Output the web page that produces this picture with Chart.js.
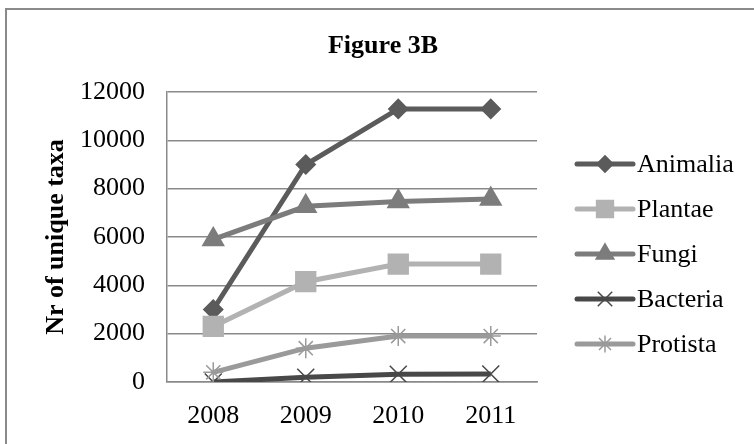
<!DOCTYPE html>
<html>
<head>
<meta charset="utf-8">
<script src="https://cdn.jsdelivr.net/npm/chart.js@4/dist/chart.umd.min.js"></script>
<style>
  html, body { margin: 0; padding: 0; background: #ffffff; }
  #wrap { position: relative; width: 754px; height: 444px; }
</style>
</head>
<body>
<div id="wrap"><canvas id="c" width="754" height="444"></canvas></div>
<script>
// Years on the category axis
const years = ['2008', '2009', '2010', '2011'];

// Number of unique taxa per kingdom
const animalia = [3000, 9000, 11300, 11300];
const plantae  = [2300, 4150, 4880, 4880];
const fungi    = [5900, 7270, 7470, 7570];
const bacteria = [0, 200, 320, 330];
const protista = [400, 1400, 1900, 1900];

// Value axis ticks
const yTicks = [0, 2000, 4000, 6000, 8000, 10000, 12000];

const SERIF = '"Liberation Serif", "Times New Roman", serif';

const series = [
  { label: 'Animalia', data: animalia, color: '#5b5b5b', style: 'rectRot',  radius: 9.5 },
  { label: 'Plantae',  data: plantae,  color: '#b2b2b2', style: 'rect',     radius: 14 },
  { label: 'Fungi',    data: fungi,    color: '#7c7c7c', style: 'triangle', radius: 12 },
  { label: 'Bacteria', data: bacteria, color: '#484848', style: 'crossRot', radius: 12 },
  { label: 'Protista', data: protista, color: '#9a9a9a', style: 'star',     radius: 10 }
];

// Outer frame and chart heading
const framePlugin = {
  id: 'frame',
  beforeDraw(chart) {
    const ctx = chart.ctx;
    ctx.save();
    ctx.strokeStyle = '#8a8a8a';
    ctx.lineWidth = 2;
    ctx.strokeRect(6, 9, 900, 600);
    ctx.restore();
  },
  afterDraw(chart) {
    const ctx = chart.ctx;
    ctx.save();
    ctx.fillStyle = '#000000';
    ctx.font = 'bold 26px ' + SERIF;
    ctx.textAlign = 'center';
    ctx.textBaseline = 'middle';
    ctx.fillText('Figure 3B', 383, 46);
    ctx.restore();
  }
};

// Legend with a line sample and marker for each series
const lineLegendPlugin = {
  id: 'lineLegend',
  afterDraw(chart) {
    const ctx = chart.ctx;
    const area = chart.chartArea;
    const x0 = area.right + 40;
    const x1 = x0 + 56;
    const rowGap = 45;
    const firstRow = 164;
    ctx.save();
    chart.data.datasets.forEach((ds, i) => {
      const y = firstRow + i * rowGap;
      ctx.strokeStyle = ds.borderColor;
      ctx.lineWidth = 5;
      ctx.lineCap = 'round';
      ctx.beginPath();
      ctx.moveTo(x0, y);
      ctx.lineTo(x1, y);
      ctx.stroke();
      ctx.fillStyle = ds.pointBackgroundColor;
      ctx.strokeStyle = ds.pointBorderColor;
      ctx.lineWidth = ds.pointBorderWidth;
      ctx.lineCap = 'butt';
      Chart.helpers.drawPoint(ctx, {
        pointStyle: ds.pointStyle,
        radius: ds.pointRadius * 0.85,
        borderWidth: ds.pointBorderWidth,
        rotation: 0
      }, (x0 + x1) / 2, y);
      ctx.fillStyle = '#000000';
      ctx.font = '26px ' + SERIF;
      ctx.textAlign = 'left';
      ctx.textBaseline = 'middle';
      ctx.fillText(ds.label, x1 + 4, y + 1);
    });
    ctx.restore();
  }
};

new Chart(document.getElementById('c'), {
  type: 'line',
  data: {
    labels: years,
    datasets: series.map((s, i) => ({
      label: s.label,
      data: s.data,
      borderColor: s.color,
      backgroundColor: s.color,
      borderWidth: 5,
      tension: 0,
      pointStyle: s.style,
      pointRadius: s.radius,
      pointHoverRadius: s.radius,
      pointBackgroundColor: s.color,
      pointBorderColor: s.color,
      pointBorderWidth: 1.5,
      order: series.length - i
    }))
  },
  options: {
    responsive: false,
    animation: false,
    devicePixelRatio: 1,
    layout: { padding: { top: 92, right: 217, bottom: 0, left: 0 } },
    plugins: {
      legend: { display: false },
      title: { display: false },
      tooltip: { enabled: false }
    },
    scales: {
      x: {
        offset: true,
        grid: { display: false, drawTicks: false },
        border: { display: true, color: '#8a8a8a', width: 1.5 },
        ticks: {
          color: '#000000',
          padding: 19,
          font: { family: SERIF, size: 26 }
        },
        afterFit(scale) { scale.height = 62; }
      },
      y: {
        min: 0,
        max: 12000,
        afterBuildTicks(scale) { scale.ticks = yTicks.map(v => ({ value: v })); },
        grid: { color: '#8a8a8a', lineWidth: 1.5, drawTicks: false },
        border: { display: true, color: '#8a8a8a', width: 1.5 },
        ticks: {
          color: '#000000',
          padding: 22,
          font: { family: SERIF, size: 26 },
          callback: (v) => String(v)
        },
        title: {
          display: true,
          text: 'Nr of unique taxa',
          color: '#000000',
          font: { family: SERIF, size: 26, weight: 'bold' },
          padding: { top: 41, bottom: 0 }
        },
        afterFit(scale) { scale.width = 167; }
      }
    }
  },
  plugins: [framePlugin, lineLegendPlugin]
});
</script>
</body>
</html>
